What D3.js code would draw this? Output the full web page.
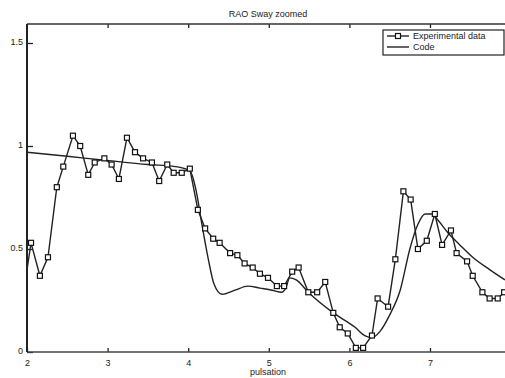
<!DOCTYPE html>
<meta charset="utf-8">
<style>
body { margin: 0; background: #fff; }
svg text { font-family: "Liberation Sans", Arial, sans-serif; fill: #222; }
.tick text { font-size: 9px; }
</style>
<svg width="505" height="378"></svg>
<script src="https://d3js.org/d3.v7.min.js"></script>
<script>

// experimental points (pulsation, RAO)
var expX = [2.00, 2.05, 2.16, 2.26, 2.37, 2.45, 2.57, 2.66, 2.76, 2.84, 2.96, 3.05, 3.14, 3.24, 3.34,
            3.44, 3.55, 3.64, 3.74, 3.82, 3.92, 4.02, 4.12, 4.21, 4.31, 4.39, 4.52, 4.61, 4.70, 4.80,
            4.89, 4.99, 5.10, 5.19, 5.29, 5.37, 5.49, 5.60, 5.70, 5.80, 5.88, 5.98, 6.08, 6.17, 6.28,
            6.35, 6.48, 6.57, 6.67, 6.76, 6.85, 6.96, 7.06, 7.15, 7.26, 7.33, 7.46, 7.53, 7.65, 7.74,
            7.84, 7.92];
var expY = [0.40, 0.53, 0.37, 0.46, 0.80, 0.90, 1.05, 1.00, 0.86, 0.92, 0.94, 0.91, 0.84, 1.04, 0.97,
            0.94, 0.92, 0.83, 0.91, 0.87, 0.87, 0.89, 0.69, 0.60, 0.55, 0.53, 0.48, 0.47, 0.43, 0.41,
            0.38, 0.36, 0.32, 0.32, 0.39, 0.41, 0.29, 0.29, 0.34, 0.19, 0.12, 0.09, 0.02, 0.02, 0.08,
            0.26, 0.22, 0.45, 0.78, 0.74, 0.50, 0.54, 0.67, 0.52, 0.59, 0.48, 0.44, 0.37, 0.29, 0.26,
            0.26, 0.29];

// code result
var codeX = [2.00, 2.50, 2.99, 3.50, 3.84, 4.02, 4.10, 4.17, 4.25, 4.32, 4.42, 4.58, 4.74, 4.89, 5.04,
             5.16, 5.21, 5.26, 5.34, 5.49, 5.80, 6.07, 6.19, 6.28, 6.38, 6.50, 6.63, 6.75, 6.85, 6.94,
             7.02, 7.10, 7.22, 7.37, 7.53, 7.74, 7.93];
var codeY = [0.97, 0.95, 0.93, 0.91, 0.90, 0.88, 0.78, 0.62, 0.45, 0.33, 0.28, 0.30, 0.32, 0.31, 0.30,
             0.29, 0.31, 0.36, 0.35, 0.29, 0.19, 0.12, 0.08, 0.07, 0.10, 0.18, 0.30, 0.50, 0.62, 0.67,
             0.67, 0.64, 0.58, 0.52, 0.46, 0.40, 0.35];

var xTicks = [2, 3, 4, 5, 6, 7];
var yTicks = [0, 0.5, 1, 1.5];
var legendLabels = ["Experimental data", "Code"];

var svg = d3.select("svg");
var mLeft = 27, mRight = 510, mTop = 24, mBottom = 352;

var x = d3.scaleLinear().domain([2, 8]).range([mLeft, mLeft + 6 * 80.6]);
var y = d3.scaleLinear().domain([0, 1.6]).range([mBottom, mBottom - 1.6 * 206]);

var expData = expX.map(function(d, i) { return [d, expY[i]]; });
var codeData = codeX.map(function(d, i) { return [d, codeY[i]]; });

svg.append("clipPath").attr("id", "plot")
  .append("rect").attr("x", mLeft).attr("y", mTop)
    .attr("width", mRight - mLeft).attr("height", mBottom - mTop + 2);

var plot = svg.append("g").attr("clip-path", "url(#plot)");

var smooth = d3.line().curve(d3.curveMonotoneX)
    .x(function(d) { return x(d[0]); }).y(function(d) { return y(d[1]); });
var straight = d3.line()
    .x(function(d) { return x(d[0]); }).y(function(d) { return y(d[1]); });

plot.append("path")
    .datum(codeData)
    .attr("fill", "none")
    .attr("stroke", "#222")
    .attr("stroke-width", 1.4)
    .attr("d", smooth);

plot.append("path")
    .datum(expData)
    .attr("fill", "none")
    .attr("stroke", "#222")
    .attr("stroke-width", 1.4)
    .attr("d", straight);

plot.selectAll(".pt")
    .data(expData.slice(1))
  .enter().append("rect")
    .attr("class", "pt")
    .attr("x", function(d) { return x(d[0]) - 2.5; })
    .attr("y", function(d) { return y(d[1]) - 2.5; })
    .attr("width", 5)
    .attr("height", 5)
    .attr("fill", "#fff")
    .attr("stroke", "#111")
    .attr("stroke-width", 1.2);

// axes, ticks inside like matlab
var xAxis = svg.append("g").attr("transform", "translate(0," + mBottom + ")")
    .call(d3.axisBottom(x).tickValues(xTicks).tickSize(-4).tickPadding(8).tickFormat(d3.format("d")));
var xTop = svg.append("g").attr("transform", "translate(0," + mTop + ")")
    .call(d3.axisTop(x).tickValues(xTicks.slice(1)).tickSize(-4).tickFormat(""));
var yAxis = svg.append("g").attr("transform", "translate(" + mLeft + ",0)")
    .call(d3.axisLeft(y).tickValues(yTicks).tickSize(-6).tickPadding(4).tickFormat(function(d) { return d; }));

[xAxis, xTop, yAxis].forEach(function(g) {
  g.select(".domain").remove();
  g.selectAll(".tick line").attr("stroke", "#222").attr("stroke-width", 1.3);
});
yAxis.selectAll(".tick text").attr("dy", "0.2em");

svg.append("line").attr("x1", mLeft).attr("x2", mRight).attr("y1", mBottom).attr("y2", mBottom)
    .attr("stroke", "#444").attr("stroke-width", 1.6);
svg.append("line").attr("x1", mLeft).attr("x2", mRight).attr("y1", mTop).attr("y2", mTop)
    .attr("stroke", "#333").attr("stroke-width", 1.6);
svg.append("line").attr("x1", mLeft).attr("x2", mLeft).attr("y1", mTop).attr("y2", mBottom)
    .attr("stroke", "#222").attr("stroke-width", 2);

svg.append("text")
    .attr("x", 268).attr("y", 17)
    .attr("text-anchor", "middle")
    .style("font-size", "9px")
    .text("RAO Sway zoomed");

svg.append("text")
    .attr("x", 268).attr("y", 375)
    .attr("text-anchor", "middle")
    .style("font-size", "9px")
    .text("pulsation");

// legend
var lg = svg.append("g").attr("transform", "translate(383,30)");
lg.append("rect").attr("width", 121).attr("height", 25)
    .attr("fill", "#fff").attr("stroke", "#222").attr("stroke-width", 1.2);
legendLabels.forEach(function(t, i) {
  var yy = 6 + i * 11;
  lg.append("line").attr("x1", 4).attr("x2", 26).attr("y1", yy).attr("y2", yy)
      .attr("stroke", "#222").attr("stroke-width", 1.4);
  if (i === 0) {
    lg.append("rect").attr("x", 12.5).attr("y", yy - 2.5).attr("width", 5).attr("height", 5)
        .attr("fill", "#fff").attr("stroke", "#111").attr("stroke-width", 1.2);
  }
  lg.append("text").attr("x", 30).attr("y", yy + 3)
      .style("font-size", "9px")
      .text(t);
});

</script>
